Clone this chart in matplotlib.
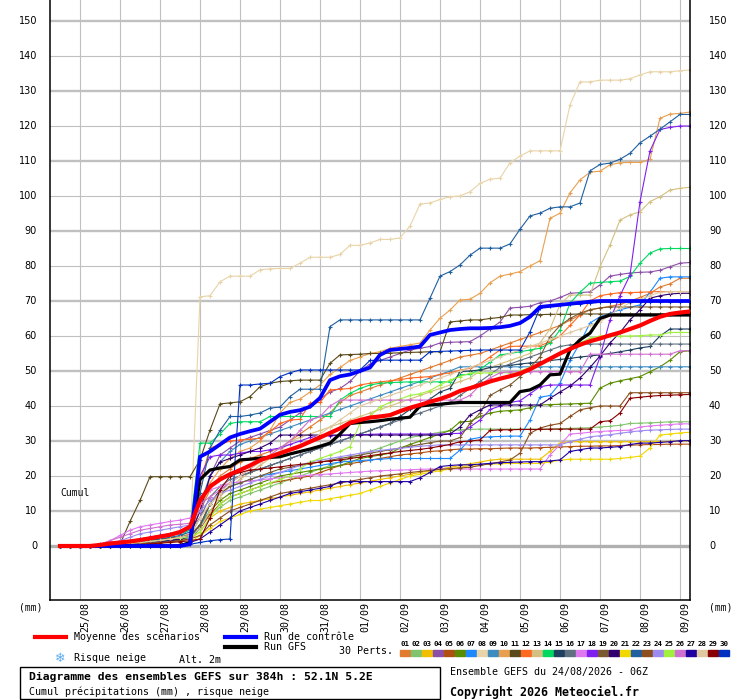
import numpy as np
import matplotlib
matplotlib.use("Agg")
import matplotlib.pyplot as plt
from matplotlib.lines import Line2D
from matplotlib.patches import Rectangle

plt.rcParams['font.family'] = ['DejaVu Sans Mono', 'DejaVu Sans']

# 6-hourly steps from 24/08 06Z, 384h run
hours = np.arange(6, 385, 6)

date_labels = ["25/08", "26/08", "27/08", "28/08", "29/08", "30/08", "31/08", "01/09",
               "02/09", "03/09", "04/09", "05/09", "06/09", "07/09", "08/09", "09/09"]
y_ticks = list(range(0, 151, 10))

# ensemble mean, control run, GFS run (cumulated mm)
mean_vals = [0, 0, 0, 0, 0.3, 0.7, 1, 1.3, 1.7, 2.2, 2.7, 3.2, 4, 5.5, 13, 17,
             19, 20.5, 21.7, 23, 24.5, 25.5, 26.5, 27.5, 28.5, 29.8, 31, 32.3, 33.6, 35.2, 36, 36.7,
             37, 37.4, 38.5, 39.5, 40.3, 41.2, 42, 43, 44.3, 45.1, 46, 47, 47.8, 48.5, 49.3, 50.5,
             52, 53.5, 55, 56.3, 57.5, 58.5, 59.3, 60.2, 61, 62, 63, 64.3, 65.5, 66.3, 66.7, 67]
ctrl_vals = [0, 0, 0, 0, 0, 0, 0, 0, 0, 0, 0, 0, 0, 0.5, 25.5, 27,
             29, 31, 32, 32.8, 33.5, 35.5, 37.5, 38.3, 38.8, 39.8, 42.3, 47.4, 48.5, 49, 50, 51,
             54.6, 56, 56.3, 56.6, 57, 60.3, 61, 61.7, 62, 62.2, 62.2, 62.3, 62.5, 62.9, 63.7, 65.5,
             68.3, 68.6, 68.9, 69.2, 69.5, 69.8, 70, 70, 70, 70, 70, 70, 70, 70, 70, 70]
gfs_vals = [0, 0, 0, 0, 0, 0, 0, 0, 0, 0, 0, 0, 0, 1, 19, 21.7,
            22.3, 22.7, 24.6, 24.8, 25.1, 25.3, 25.5, 26.3, 27, 27.7, 28.5, 29.4, 32, 35, 35.3, 35.5,
            35.8, 36.2, 36.5, 36.8, 40, 40.3, 40.5, 40.8, 41, 41, 41, 41, 41, 41, 44.1, 44.6,
            46, 48.9, 49.1, 56, 58.9, 60.8, 65, 66, 66, 66, 66, 66, 66, 66, 66, 66]

# 30 perturbations
m01 = [0, 0, 0, 0, 0.2, 0.5, 0.8, 1, 1.2, 1.5, 1.8, 2, 2.5, 3.5, 10, 16,
       20, 22, 24, 25, 26, 27, 28, 30, 32, 34, 36, 38, 41, 43, 44, 45,
       46, 47, 48, 49, 50, 51, 52, 53, 54, 54.5, 55, 56, 57, 58, 59, 60,
       61, 62, 63, 64.5, 66, 67.5, 68, 68.5, 69, 70, 71, 72.2, 74, 74.9, 76.5, 76.5]
m02 = [0, 0, 0, 0, 0, 0.3, 0.6, 1, 1.3, 1.6, 2, 2.2, 2.5, 3, 6, 9,
       11, 13, 14, 15, 16, 17, 18, 19, 20, 21, 22, 23, 24, 25, 26, 27,
       28, 29, 30, 31, 31.5, 32, 32.5, 33, 33.2, 33.3, 33.4, 33.4, 33.4, 33.4, 33.4, 33.4,
       33.4, 33.4, 33.5, 33.6, 33.7, 33.8, 34, 34.2, 34.5, 35, 35.1, 35.2, 35.3, 35.5, 35.5, 35.5]
m03 = [0, 0, 0, 0, 0, 0, 0.2, 0.4, 0.6, 0.8, 1, 1.2, 1.5, 2, 4, 8,
       10, 11, 12, 12.5, 13, 13.5, 14, 14.5, 15, 15.5, 16, 16.5, 17, 17.5, 18, 18.5,
       19, 19.5, 20, 20.5, 21, 21.5, 22, 22.5, 23, 23.5, 24, 24.5, 24.8, 24.8, 24.8, 24.8,
       24.8, 27, 29.4, 29.8, 29.8, 29.8, 29.8, 29.8, 29.8, 29.8, 29.8, 29.8, 29.8, 29.9, 30, 30]
m04 = [0, 0, 0, 0, 0.3, 0.6, 1, 1.5, 2, 2.5, 3, 3.5, 4, 5, 8, 20,
       26, 28, 30, 31, 32, 33, 34, 36, 38, 40, 42, 44, 45, 47, 50, 52,
       53, 54, 55, 56, 56.5, 57, 58, 58.2, 58.3, 58.4, 60, 62, 64, 68, 68.2, 68.5,
       69.5, 70, 71, 72.2, 72.4, 72.6, 74.6, 77.1, 77.6, 78, 78.2, 78.3, 78.8, 79.8, 80.8, 81]
m05 = [0, 0, 0, 0, 0, 0.2, 0.4, 0.6, 0.8, 1, 1.2, 1.4, 1.6, 2, 5, 9,
       12, 14, 15, 16, 17, 18, 18.5, 19, 19.5, 20, 21, 22, 23, 23.5, 24, 24.5,
       25, 25.5, 26, 26.3, 26.6, 27, 27.2, 27.5, 27.7, 27.7, 27.8, 27.8, 27.9, 28, 28, 28,
       28.1, 28.2, 28.3, 28.4, 28.5, 28.5, 28.6, 28.6, 28.7, 28.8, 28.9, 29, 29, 29.1, 29.1, 29.1]
m06 = [0, 0, 0, 0, 0, 0.3, 0.6, 0.9, 1.2, 1.5, 1.8, 2, 2.3, 3, 6, 10,
       13, 15, 16, 17, 18, 19, 20, 20.5, 21, 21.5, 22, 22.5, 23, 24, 25, 25.5,
       26, 26.5, 28, 29, 30, 31, 32, 33, 35.5, 35.6, 37, 38, 38.5, 38.7, 38.9, 39.5,
       40.3, 40.4, 40.5, 40.6, 40.7, 40.8, 45.1, 46.5, 47.2, 47.8, 48.4, 49.8, 51.2, 53.1, 55.5, 55.8]
m07 = [0, 0, 0, 0, 0, 0, 0.3, 0.6, 0.9, 1.2, 1.5, 1.8, 2, 2.5, 5, 12,
       15, 17, 18, 19, 20, 20.5, 21, 21.5, 22, 22.5, 23, 23.5, 24, 24.2, 24.4, 24.6,
       24.8, 25, 25, 25, 25, 25, 25, 25, 27.4, 30.5, 31, 31.2, 31.3, 31.4, 31.4, 36,
       42.5, 43, 46.5, 53, 58, 63.7, 65.5, 66.5, 67.5, 68.2, 68.9, 72.5, 76.5, 76.9, 76.9, 76.9]
m08 = [0, 0, 0, 0, 0, 0, 0, 0, 0, 0, 0, 0, 0, 0.5, 71.2, 71.5,
       75.5, 77.1, 77.1, 77.1, 78.9, 79.2, 79.3, 79.3, 80.8, 82.5, 82.5, 82.5, 83.3, 85.9, 85.9, 86.6,
       87.6, 87.6, 88, 91.4, 97.7, 98, 99, 99.8, 100, 101.2, 103.6, 104.8, 105.1, 109.5, 111.4, 112.9,
       112.9, 112.9, 112.9, 126, 132.6, 132.6, 133.1, 133.1, 133.1, 133.5, 134.6, 135.5, 135.5, 135.5, 135.8, 136]
m09 = [0, 0, 0, 0, 0, 0.2, 0.5, 1, 1.5, 2, 2.5, 3, 3.5, 4.5, 12, 20,
       24, 27, 29, 30, 31, 32, 33, 34, 35, 36, 37, 38, 39, 40, 41, 42,
       43, 44, 45, 46, 47, 48, 49, 50, 51.2, 51.2, 51.2, 51.2, 51.2, 51.2, 51.2, 51.2,
       51.2, 51.2, 51.2, 51.2, 51.2, 51.2, 51.2, 51.2, 51.2, 51.2, 51.2, 51.2, 51.2, 51.2, 51.2, 51.2]
m10 = [0, 0, 0, 0, 0, 0.2, 0.5, 0.8, 1, 1.3, 1.6, 2, 2.5, 3, 10, 18,
       22, 25, 27, 28, 30, 33, 38, 41, 42, 44, 46, 49, 51, 53, 54, 55,
       55.5, 56.5, 57, 57.5, 58, 61.7, 65.1, 67.4, 70.3, 70.5, 72.2, 75.2, 77.1, 77.7, 78.4, 80,
       81.5, 93.6, 95.1, 100.9, 104.6, 106.8, 107.1, 108.9, 109.5, 109.6, 109.6, 110.5, 122.2, 123.4, 123.6, 124]
m11 = [0, 0, 0, 0, 0, 0, 0.5, 7, 13, 19.8, 19.8, 19.8, 19.8, 19.8, 24.6, 33.1,
       40.6, 40.9, 41.2, 42.7, 45.5, 46.5, 47, 47.2, 47.4, 47.4, 47.4, 52.2, 54.6, 54.7, 54.8, 55,
       55, 55.1, 55.2, 55.3, 55.4, 55.5, 55.5, 64, 64.3, 64.6, 64.6, 65, 65.3, 66, 66, 66.1,
       66.1, 66.2, 66.2, 66.2, 66.3, 66.3, 66.3, 66.3, 66.3, 66.3, 66.3, 66.3, 66.3, 66.3, 66.3, 66.3]
m12 = [0, 0, 0, 0, 0, 0.2, 0.4, 0.6, 0.8, 1, 1.3, 1.6, 2, 3, 18, 28,
       29, 30, 30.3, 30.5, 30.8, 32.7, 35, 36, 36.2, 40.8, 41, 44.6, 44.8, 45, 46, 46.5,
       46.9, 47.2, 47.5, 48, 48.2, 48.4, 49, 49.5, 50.2, 50.8, 52, 54, 56, 57, 57.1, 57.1,
       57.2, 58.4, 60, 63, 66, 70, 71.5, 72, 72.4, 72.4, 72.5, 72.6, 72.7, 72.7, 72.7, 72.7]
m13 = [0, 0, 0, 0, 0, 0, 0.3, 0.6, 0.9, 1.2, 1.5, 1.8, 2, 2.5, 5, 10,
       14, 17, 19, 21, 23, 25, 27, 30, 31, 32, 33, 34, 35, 36, 37, 38,
       39, 40, 41, 42, 43, 44, 45, 46, 47, 48, 50, 51, 52, 53, 54, 55,
       58, 62, 69, 71.7, 71.7, 71.7, 79.8, 86, 93.1, 94.6, 95.5, 98.4, 99.8, 101.7, 102.2, 102.5]
m14 = [0, 0, 0, 0, 0, 0.3, 0.6, 0.9, 1.2, 1.5, 1.8, 2, 2.5, 5, 29.4, 29.4,
       32, 35, 35.5, 35.5, 35.5, 37, 37, 37, 37, 37, 37, 37, 41.7, 43.6, 45, 46,
       46.5, 46.7, 46.8, 46.9, 46.9, 46.9, 46.9, 46.9, 48.9, 49, 50.5, 52.5, 54.6, 55, 55.5, 56,
       56.5, 58, 61.7, 69.4, 72.5, 75.1, 75.3, 75.5, 75.7, 77, 80.8, 83.7, 84.9, 85, 85, 85]
m15 = [0, 0, 0, 0, 0, 0, 0.2, 0.5, 0.8, 1, 1.3, 1.6, 2, 2.5, 6, 12,
       16, 18, 20, 21, 22, 23, 24, 25, 26, 27, 28, 29, 30, 31, 32, 33,
       34, 35, 37, 39, 40, 42, 44, 45, 49.8, 50, 50.3, 51, 51.3, 51.6, 52, 52.3,
       52.6, 53, 53.3, 53.6, 54, 54.3, 54.6, 55, 55.5, 56, 56.6, 57, 60, 62, 62, 62]
m16 = [0, 0, 0, 0, 0, 0.2, 0.4, 0.6, 0.8, 1, 1.2, 1.5, 2, 3, 8, 14,
       17, 19, 20, 21, 22, 23, 24, 25, 26, 27, 28, 29, 30, 31, 32, 33,
       34, 35, 36, 37, 38, 39, 40, 41, 43, 45, 47, 49, 51, 52, 53, 54,
       55, 56, 57, 57.5, 57.7, 57.7, 57.7, 57.7, 57.7, 57.7, 57.7, 57.7, 57.7, 57.7, 57.7, 57.7]
m17 = [0, 0, 0, 0, 0.5, 1.5, 3, 4.5, 5.5, 6, 6.5, 7, 7.4, 8, 14, 16,
       17, 18, 18.3, 18.6, 18.9, 19.2, 19.5, 19.8, 20, 20.2, 20.4, 20.6, 20.8, 21, 21.2, 21.4,
       21.5, 21.6, 21.7, 21.8, 21.9, 22, 22, 22, 22, 22, 22, 22, 22, 22, 22, 22,
       22, 26, 28.9, 32, 32.2, 32.5, 32.7, 32.9, 33, 33.1, 34, 34.3, 34.5, 34.7, 34.9, 34.9]
m18 = [0, 0, 0, 0, 0.2, 0.5, 1, 1.5, 2, 2.5, 3, 3.5, 4, 5, 20, 25.5,
       26, 26, 26.5, 27, 27, 27.5, 28, 29, 30, 31, 31.5, 31.5, 31.6, 31.7, 31.8, 31.9,
       32, 32, 32, 32, 32, 32, 32, 32.1, 32.2, 34, 36, 39, 40, 41, 41.5, 43.5,
       45.5, 46, 46, 46, 46, 46, 54, 64.6, 71.5, 77.4, 98.4, 112.9, 119, 119.6, 120, 120]
m19 = [0, 0, 0, 0, 0, 0.3, 0.6, 1, 1.3, 1.6, 2, 2.3, 2.6, 3, 6, 12,
       15, 17, 18, 19, 20, 21, 22, 22.5, 23, 23.5, 24, 24.5, 25, 25.5, 26, 26.5,
       27, 27.5, 28, 28.5, 29, 29.5, 30, 30, 31, 35, 38, 43, 44.6, 46, 48.4, 51,
       54, 59.8, 63, 65, 66.5, 67.5, 68, 68.3, 68.3, 68.3, 68.3, 68.3, 68.3, 68.3, 68.3, 68.3]
m20 = [0, 0, 0, 0, 0, 0.2, 0.4, 0.6, 0.8, 1, 1.2, 1.5, 2, 3, 10, 20,
       24, 25, 26, 27, 28, 29.4, 31.7, 31.7, 31.7, 31.7, 31.7, 31.7, 31.7, 31.7, 31.7, 31.7,
       31.7, 31.7, 31.7, 31.7, 31.7, 31.7, 31.7, 32, 34, 37.4, 38.9, 40.3, 40.3, 40.3, 40.3, 40.3,
       40.3, 42.2, 44, 45.7, 48, 51, 54.3, 58, 61, 64.6, 67.5, 70.8, 71.5, 72, 72.2, 72.2]
m21 = [0, 0, 0, 0, 0, 0, 0, 0, 0, 0, 0, 0, 0.5, 1, 3, 5,
       7, 8, 9, 10, 10.5, 11, 11.5, 12, 12.5, 13, 13, 13.5, 14, 14.5, 15, 16,
       17, 18, 19, 20, 20.5, 21, 21.5, 22, 22.5, 23, 23.2, 23.4, 23.5, 23.6, 23.6, 23.6,
       23.6, 24, 24.5, 24.8, 24.8, 24.8, 24.8, 24.8, 25, 25.3, 25.7, 28, 31.7, 32, 32.3, 32.5]
m22 = [0, 0, 0, 0, 0.3, 0.5, 0.8, 1, 1.2, 1.5, 2, 2.5, 3, 4, 15, 28,
       33, 37, 37, 37.4, 38, 39.4, 39.7, 42.7, 44.8, 44.8, 44.8, 62.7, 64.6, 64.6, 64.6, 64.6,
       64.6, 64.6, 64.6, 64.6, 64.6, 70.8, 77.1, 78.4, 80.3, 83.1, 85.1, 85.1, 85.1, 86.3, 90.5, 94.3,
       95.1, 96.5, 96.9, 96.9, 98, 107.2, 109, 109.4, 110.5, 112.2, 115.2, 117.1, 119.1, 121.2, 123.3, 123.3]
m23 = [0, 0, 0, 0, 0, 0, 0.2, 0.4, 0.6, 0.8, 1, 1.2, 1.5, 2, 3, 6,
       8, 10, 11, 12, 13, 14, 15, 15.5, 16, 16.5, 17, 17.5, 18, 18.5, 19, 19.5,
       20, 20.3, 20.6, 21, 21.3, 21.6, 21.9, 22.1, 22.3, 22.5, 23, 23.5, 24, 24.6, 26.5, 32.2,
       33.7, 34.5, 35, 37, 38.9, 39.5, 40, 40, 40, 43.8, 43.8, 43.8, 43.8, 43.8, 43.8, 43.8]
m24 = [0, 0, 0, 0, 0.3, 0.8, 1.5, 2.5, 3.5, 4, 4.5, 5, 5.5, 6, 10, 13,
       15, 16, 17, 18, 19, 20, 21, 22, 23, 24, 24.5, 25, 25.5, 26, 26.5, 27,
       27.3, 27.6, 27.9, 28.2, 28.5, 28.7, 28.9, 28.9, 28.9, 28.9, 28.9, 28.9, 28.9, 28.9, 28.9, 28.9,
       28.9, 28.9, 28.9, 29.8, 30.5, 31.2, 31.5, 31.8, 32.2, 32.6, 32.9, 33.1, 33.2, 33.3, 33.4, 33.4]
m25 = [0, 0, 0, 0, 0, 0.2, 0.5, 0.8, 1, 1.3, 1.6, 2, 2.3, 2.6, 4, 8,
       12, 14, 15, 16, 17, 18, 19, 20, 22, 24, 25, 26, 27, 28.4, 35, 37,
       39.8, 41, 42, 43, 43.5, 44.4, 46, 47.4, 48.4, 49.4, 49.4, 49.5, 49.5, 49.5, 50, 51,
       52, 53.5, 55, 56.5, 58, 59.4, 60, 60, 60, 60, 60.1, 60.3, 60.3, 61, 61, 61]
m26 = [0, 0, 0, 0, 0.5, 1.5, 2.5, 3.5, 4.5, 5, 5.5, 6, 6.2, 6.5, 12, 14,
       16, 18, 20, 22, 24, 26, 28, 30, 33, 36, 37, 40, 41.7, 41.7, 41.7, 41.7,
       41.7, 41.7, 41.7, 41.7, 41.7, 41.7, 41.7, 41.7, 41.7, 43, 46, 48, 49.5, 49.8, 49.8, 49.8,
       49.8, 49.8, 49.8, 49.8, 49.8, 54.8, 54.8, 54.8, 54.8, 54.8, 54.8, 54.8, 54.8, 54.8, 55.8, 55.8]
m27 = [0, 0, 0, 0, 0, 0, 0, 0, 0, 0, 0, 0, 0.5, 1, 2, 4,
       6, 8, 10, 11, 12, 13, 14, 15, 15.5, 16, 16.5, 17, 18.4, 18.4, 18.4, 18.4,
       18.4, 18.4, 18.4, 18.4, 19.5, 21, 22.7, 23, 23.2, 23.2, 23.4, 23.6, 23.8, 23.9, 24, 24.1,
       24.1, 24.3, 24.6, 27, 27.5, 28, 28, 28.2, 28.4, 29, 29.4, 29.4, 29.6, 29.8, 30.1, 30.1]
m28 = [0, 0, 0, 0, 0, 0.2, 0.5, 0.8, 1, 1.3, 1.6, 2, 2.5, 3, 8, 12,
       15, 18, 20, 22, 24, 26, 27, 28, 29, 30, 32, 34, 36, 38, 40, 41,
       42, 43, 44, 45, 46, 47, 48, 49, 50, 51, 52, 53, 54, 55, 56, 57,
       58, 59, 60, 61, 62, 63, 64, 66, 68, 69.5, 70.5, 71.5, 72.5, 72.7, 72.7, 72.7]
m29 = [0, 0, 0, 0, 0, 0, 0, 0.2, 0.4, 0.6, 0.8, 1, 1.2, 1.5, 2, 8,
       16, 20, 21, 21.7, 22, 22.3, 22.6, 23, 23.3, 23.6, 24, 24.3, 24.6, 25, 25.4, 25.8,
       26.2, 26.6, 27, 27.3, 27.6, 28, 28.5, 29, 29.8, 30, 30.3, 33, 33.2, 33.2, 33.3, 33.3,
       33.3, 33.4, 33.4, 33.4, 33.4, 33.4, 35.5, 35.8, 38, 42.2, 42.5, 42.8, 43, 43.1, 43.2, 43.3]
m30 = [0, 0, 0, 0, 0, 0, 0, 0, 0, 0, 0, 0, 0, 0.5, 1, 1.5,
       1.8, 2, 46, 46, 46.3, 46.5, 48.4, 49.5, 50.3, 50.3, 50.3, 50.3, 50.3, 50.3, 50.3, 53,
       53.1, 53.1, 53.1, 53.1, 53.1, 55.5, 55.6, 55.7, 55.8, 55.9, 56, 56, 56, 56, 56, 61.2,
       68, 68.5, 68.8, 69, 69.2, 69.4, 69.6, 69.8, 69.8, 69.8, 69.8, 69.8, 69.8, 69.8, 69.8, 69.8]

members = [m01, m02, m03, m04, m05, m06, m07, m08, m09, m10,
           m11, m12, m13, m14, m15, m16, m17, m18, m19, m20,
           m21, m22, m23, m24, m25, m26, m27, m28, m29, m30]

pert_colors = ['#e07b30', '#82c46e', '#f0c000', '#8c4fa8', '#b05010', '#5a8c00', '#1e88ff', '#e8d4a8',
               '#3c8cc0', '#e8a050', '#5a4a1a', '#ff6820', '#d4c080', '#00d860', '#204060', '#607080',
               '#e078f0', '#8020f0', '#7a5a30', '#300070', '#f0d800', '#2060a0', '#8c5020', '#9c8cf0',
               '#a0f040', '#d070d0', '#2000a0', '#e0c8a0', '#880000', '#0030c0']

W, H = 740, 700


def fx(x):
    return x / W


def fy(y):
    return 1 - y / H


fig = plt.figure(figsize=(7.4, 7.0), dpi=100)
ax = fig.add_axes([50 / W, 100 / H, 640 / W, 600 / H])
ax.set_xlim(0, 384)
ax.set_ylim(-15.43, 156)
ax.spines['top'].set_visible(False)
for s in ['left', 'right', 'bottom']:
    ax.spines[s].set_linewidth(1.1)
ax.set_xticks([])
ax.set_yticks([])

# grid: one line per day at 00Z, every 10 mm (odd tens thicker)
for d in range(16):
    ax.axvline(18 + 24 * d, color='#c0c0c0', lw=0.8, zorder=0)
for v in range(10, 151, 10):
    thick = (v // 10) % 2 == 1
    ax.axhline(v, color='#c0c0c0', lw=1.7 if thick else 0.8, zorder=0)
ax.axhline(0, color='#b0b0b0', lw=2.4, zorder=0)

# perturbations
for vals, col in zip(members, pert_colors):
    ax.plot(hours, vals, color=col, lw=0.8, marker='+', ms=2.8, mew=0.8, zorder=2)

ax.plot(hours, gfs_vals, color='black', lw=2.3, zorder=3)
ax.plot(hours, ctrl_vals, color='#0000ff', lw=2.7, zorder=4)
ax.plot(hours, mean_vals, color='#ff0000', lw=3.0, zorder=5)

# y labels both sides
for v in y_ticks:
    ax.text(-7.8, v, str(v), ha='right', va='center', fontsize=7,
            family='DejaVu Sans', clip_on=False)
    ax.text(395.4, v, str(v), ha='left', va='center', fontsize=7,
            family='DejaVu Sans', clip_on=False)

# date labels
for d, lab in enumerate(date_labels):
    ax.text(18 + 24 * d + 3, -15.9, lab, rotation=90, ha='center', va='top',
            fontsize=7.2, clip_on=False)

ax.text(6, 15.1, "Cumul", ha='left', va='center', fontsize=7)

fig.text(fx(31), fy(607), "(mm)", ha='center', va='center', fontsize=7)
fig.text(fx(721), fy(607), "(mm)", ha='center', va='center', fontsize=7)

# legend
fig.add_artist(Line2D([fx(35), fx(66)], [fy(637), fy(637)], color='#ff0000', lw=3))
fig.text(fx(74), fy(637), "Moyenne des scénarios", ha='left', va='center', fontsize=7.2)
fig.add_artist(Line2D([fx(225), fx(256)], [fy(637), fy(637)], color='#0000ff', lw=3))
fig.text(fx(264), fy(637), "Run de contrôle", ha='left', va='center', fontsize=7.2)
fig.add_artist(Line2D([fx(225), fx(256)], [fy(647), fy(647)], color='black', lw=3))
fig.text(fx(264), fy(647), "Run GFS", ha='left', va='center', fontsize=7.2)
fig.text(fx(60), fy(658), "\u2744", ha='center', va='center', fontsize=9,
         color='#5aaaf0', family='DejaVu Sans')
fig.text(fx(74), fy(658), "Risque neige", ha='left', va='center', fontsize=7.2)
fig.text(fx(179), fy(660), "Alt. 2m", ha='left', va='center', fontsize=7.2)
fig.text(fx(339), fy(651), "30 Perts.", ha='left', va='center', fontsize=7.2)

for i, col in enumerate(pert_colors):
    x0 = 400 + 11 * i
    fig.text(fx(x0 + 5), fy(644), "%02d" % (i + 1), ha='center', va='center',
             fontsize=5.3, fontweight='bold')
    fig.add_artist(Rectangle((fx(x0), fy(656)), 10 / W, 6 / H, color=col,
                             transform=fig.transFigure))

fig.add_artist(Rectangle((fx(20), fy(699)), 420 / W, 32 / H, fill=False,
                         ec='black', lw=1, transform=fig.transFigure))
fig.text(fx(29), fy(677), "Diagramme des ensembles GEFS sur 384h : 52.1N 5.2E",
         ha='left', va='center', fontsize=8.2, fontweight='bold')
fig.text(fx(29), fy(692), "Cumul précipitations (mm) , risque neige",
         ha='left', va='center', fontsize=7.2)
fig.text(fx(450), fy(672), "Ensemble GEFS du 24/08/2026 - 06Z",
         ha='left', va='center', fontsize=7.2)
fig.text(fx(450), fy(692), "Copyright 2026 Meteociel.fr",
         ha='left', va='center', fontsize=8.4, fontweight='bold')

fig.savefig("out.png", dpi=100)
